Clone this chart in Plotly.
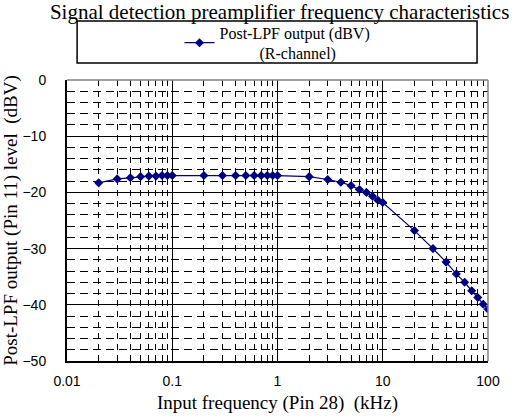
import plotly.graph_objects as go

freq_khz = [0.02, 0.03, 0.04, 0.05, 0.06, 0.07, 0.08, 0.09, 0.1,
            0.2, 0.3, 0.4, 0.5, 0.6, 0.7, 0.8, 0.9, 1,
            2, 3, 4, 5, 6, 7, 8, 9, 10,
            20, 30, 40, 50, 60, 70, 80, 90, 100]
level_dbv = [-18.3, -17.6, -17.4, -17.2, -17.1, -17.1, -17.0, -17.0, -17.0,
             -17.0, -17.0, -17.0, -17.0, -17.0, -17.0, -17.0, -17.0, -17.0,
             -17.2, -17.7, -18.2, -18.8, -19.5, -20.0, -20.7, -21.4, -21.8,
             -26.8, -30.0, -32.4, -34.5, -36.0, -37.5, -38.7, -39.9, -40.8]

x_ticks = [0.01, 0.1, 1, 10, 100]
x_ticktext = ["0.01", "0.1", "1", "10", "100"]
x_minor = [k * d for d in [0.01, 0.1, 1, 10] for k in range(2, 10)]

title = "Signal detection preamplifier frequency characteristics"
series_name = "Post-LPF output (dBV)<br>" + "\u00a0" * 10 + "(R-channel)"
x_title = "Input frequency (Pin 28)  (kHz)"
y_title = "Post-LPF output (Pin 11) level  (dBV)"

serif = "Liberation Serif, Times New Roman, serif"
sans = "Liberation Sans, Arial, sans-serif"

fig = go.Figure()
fig.add_trace(go.Scatter(
    x=freq_khz, y=level_dbv, mode="lines+markers", name=series_name,
    line=dict(color="#000080", width=1.2),
    marker=dict(symbol="diamond", size=7, color="#000080"),
))

fig.update_layout(
    width=515, height=419,
    margin=dict(l=67, r=27, t=80, b=58, autoexpand=False),
    paper_bgcolor="white", plot_bgcolor="white",
    title=dict(text=title, x=0.543, xanchor="center", xref="container",
               y=0.99, yanchor="top", yref="container",
               font=dict(family=serif, size=21, color="black")),
    showlegend=True,
    legend=dict(x=0.5, xanchor="center", y=1.132, yanchor="middle",
                bgcolor="rgba(0,0,0,0)", borderwidth=0, tracegroupgap=0,
                font=dict(family=serif, size=16, color="black")),
    shapes=[
        dict(type="rect", xref="paper", yref="paper", x0=0.024, x1=0.974,
             y0=1.0605, y1=1.21, line=dict(color="black", width=1.5)),
        dict(type="line", xref="paper", yref="paper", x0=0, x1=1, y0=1, y1=1,
             line=dict(color="#808080", width=1.5)),
        dict(type="line", xref="paper", yref="paper", x0=1, x1=1, y0=0, y1=1,
             line=dict(color="#808080", width=1.5)),
    ],
)

fig.update_xaxes(
    type="log", range=[-2, 2], tickmode="array", tickvals=x_ticks, ticktext=x_ticktext,
    showline=True, linecolor="black", linewidth=2,
    showgrid=True, gridcolor="black", gridwidth=1,
    ticks="", ticklabelstandoff=6,
    tickfont=dict(family=sans, size=14, color="black"),
    title=dict(text=x_title, font=dict(family=serif, size=19, color="black"), standoff=8),
    minor=dict(tickmode="array", tickvals=x_minor, ticks="inside", ticklen=4,
               tickcolor="black", showgrid=True, gridcolor="black", gridwidth=1,
               griddash="6px,5px"),
    zeroline=False,
)
fig.update_yaxes(
    range=[-50, 0], dtick=10, tick0=0,
    showline=True, linecolor="black", linewidth=2,
    showgrid=True, gridcolor="black", gridwidth=1,
    ticks="", ticklabelstandoff=16,
    tickfont=dict(family=sans, size=14, color="black"),
    title=dict(text=y_title, font=dict(family=serif, size=19, color="black"), standoff=0),
    minor=dict(dtick=2, showgrid=True, gridcolor="black", gridwidth=1,
               griddash="8px,5px"),
    zeroline=False,
)

fig.write_html("out.html", config={"displayModeBar": False},
               post_script="document.body.style.margin='0px';")
